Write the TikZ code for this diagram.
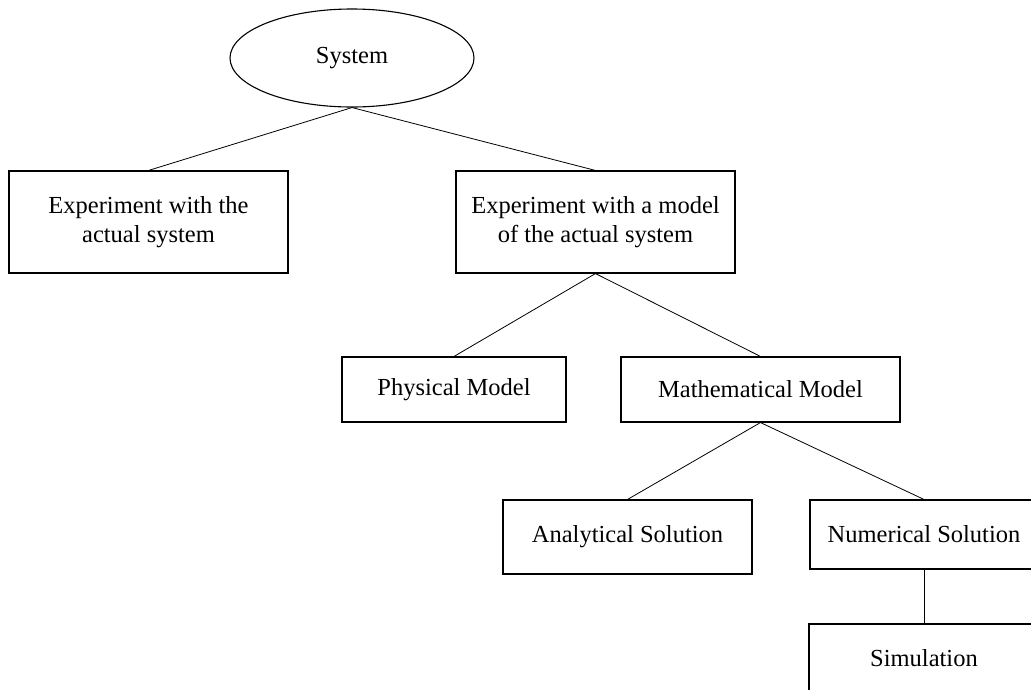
\documentclass[tikz,border=0pt]{standalone}
\usepackage{fontspec}
\setmainfont{Liberation Serif}
\usetikzlibrary{shapes.geometric}
\begin{document}
\begin{tikzpicture}[x=1pt,y=-1pt,
  every node/.style={font=\fontsize{24.5}{29}\selectfont, inner sep=0pt, align=center},
  boxnode/.style={draw, line width=1.1pt, rectangle},
  ellnode/.style={draw, line width=1.1pt, ellipse},
  link/.style={line width=0.8pt}]
\useasboundingbox (0,0) rectangle (1031,689);

% nodes
\node[ellnode, minimum width=244pt, minimum height=98pt] (sys) at (352,58) {System};
\node[boxnode, minimum width=279pt, minimum height=102pt] (actual) at (148.5,222)
  {Experiment with the\\actual system};
\node[boxnode, minimum width=279pt, minimum height=102pt] (model) at (595.5,222)
  {Experiment with a model\\of the actual system};
\node[boxnode, minimum width=224pt, minimum height=65pt] (phys) at (454,389.5) {Physical Model};
\node[boxnode, minimum width=279pt, minimum height=65pt] (math) at (760.5,389.5) {Mathematical Model};
\node[boxnode, minimum width=249pt, minimum height=74pt] (anal) at (627.5,537) {Analytical Solution};
\node[boxnode, minimum width=228pt, minimum height=69pt] (num) at (924,534.5) {Numerical Solution};
\node[boxnode, minimum width=230pt, minimum height=68pt] (sim) at (924,658) {Simulation};

% connectors
\draw[link] (sys.south) -- (actual.north);
\draw[link] (sys.south) -- (model.north);
\draw[link] (model.south) -- (phys.north);
\draw[link] (model.south) -- (math.north);
\draw[link] (math.south) -- (anal.north);
\draw[link] (math.south) -- (num.north);
\draw[link] (num.south) -- (sim.north);
\end{tikzpicture}
\end{document}
